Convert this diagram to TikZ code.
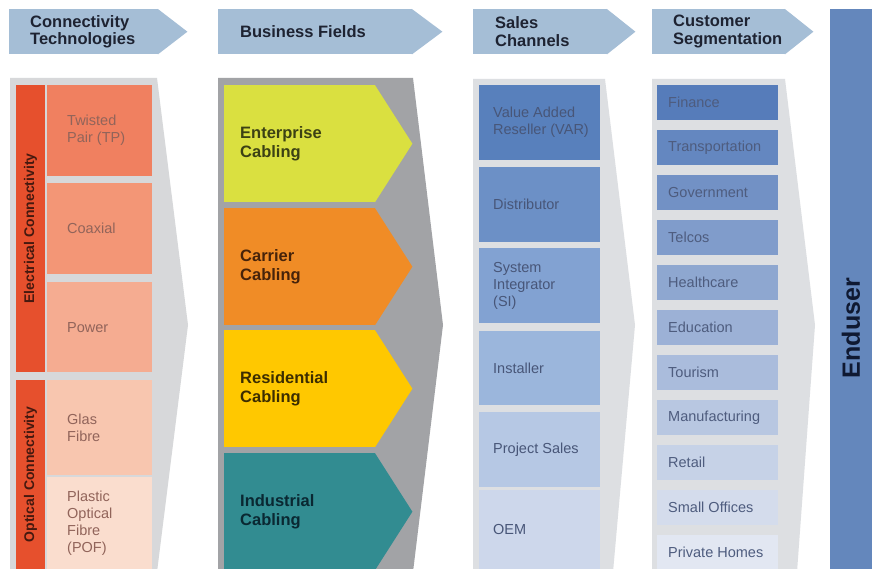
\documentclass[tikz,border=0pt]{standalone}
\usepackage{fontspec}
\setmainfont{Liberation Sans}
\definecolor{hdrblue}{RGB}{165,190,214}
\definecolor{hdrtext}{RGB}{30,35,50}
\definecolor{ltgray}{RGB}{215,216,218}
\definecolor{bfgray}{RGB}{162,163,166}
\definecolor{scgray}{RGB}{221,223,226}
\definecolor{stripred}{RGB}{230,80,45}
\definecolor{striptext}{RGB}{70,25,15}
\definecolor{cttext}{RGB}{145,100,90}
\definecolor{ctA}{RGB}{240,128,96}
\definecolor{ctB}{RGB}{243,150,118}
\definecolor{ctC}{RGB}{245,172,145}
\definecolor{ctD}{RGB}{248,198,175}
\definecolor{ctE}{RGB}{250,221,206}
\definecolor{bfA}{RGB}{218,224,64}
\definecolor{bfB}{RGB}{240,140,38}
\definecolor{bfC}{RGB}{255,200,0}
\definecolor{bfD}{RGB}{50,140,145}
\definecolor{bftA}{RGB}{60,65,20}
\definecolor{bftB}{RGB}{70,35,10}
\definecolor{bftC}{RGB}{60,45,0}
\definecolor{bftD}{RGB}{10,40,50}
\definecolor{scA}{RGB}{88,128,188}
\definecolor{scB}{RGB}{108,144,198}
\definecolor{scC}{RGB}{130,162,210}
\definecolor{scD}{RGB}{155,182,220}
\definecolor{scE}{RGB}{182,200,228}
\definecolor{scF}{RGB}{205,215,235}
\definecolor{sctext}{RGB}{72,86,120}
\definecolor{segA}{RGB}{86,124,186}
\definecolor{segB}{RGB}{226,231,242}
\definecolor{segtext}{RGB}{78,92,126}
\definecolor{endblue}{RGB}{100,135,188}
\definecolor{endtext}{RGB}{15,25,50}
\begin{document}
\begin{tikzpicture}[x=1pt,y=-1pt,
  hdr/.style={fill=hdrblue, anchor=north west, minimum height=45pt, inner ysep=0pt, align=flush left,
    font=\fontsize{16.5}{17.5}\selectfont\bfseries, text=hdrtext},
  strip/.style={fill=stripred, rotate=90, inner sep=0pt, minimum height=29pt,
    font=\fontsize{14}{14}\selectfont\bfseries, text=striptext},
  ctcell/.style={anchor=north west, inner xsep=20pt, inner ysep=0pt, text width=65pt, align=flush left,
    font=\fontsize{14.5}{17}\selectfont, text=cttext},
  bfcell/.style={anchor=north west, inner xsep=16pt, inner ysep=0pt, text width=119pt, minimum height=117pt,
    align=flush left, font=\fontsize{16.5}{19.5}\selectfont\bfseries},
  sccell/.style={anchor=north west, inner xsep=14pt, inner ysep=0pt, text width=93pt, align=flush left,
    font=\fontsize{14.5}{17}\selectfont, text=sctext},
  segcell/.style={anchor=north west, inner xsep=11pt, inner ysep=0pt, text width=99pt, minimum height=35pt,
    align=flush left, font=\fontsize{14.5}{17}\selectfont, text=segtext},
]
\useasboundingbox (0,0) rectangle (874,569);
\fill[white] (0,0) rectangle (874,569);

% ---------- headers ----------
\node[hdr, inner xsep=21pt, text width=107pt] (h1) at (9,9) {Connectivity\\Technologies};
\fill[hdrblue] ([xshift=-0.5pt]h1.north east) -- ([xshift=29pt]h1.east) -- ([xshift=-0.5pt]h1.south east) -- cycle;
\node[hdr, inner xsep=22pt, text width=150pt] (h2) at (218,9) {\mbox{Business Fields}};
\fill[hdrblue] ([xshift=-0.5pt]h2.north east) -- ([xshift=30pt]h2.east) -- ([xshift=-0.5pt]h2.south east) -- cycle;
\node[hdr, inner xsep=22pt, text width=90pt] (h3) at (473,9) {Sales\\Channels};
\fill[hdrblue] ([xshift=-0.5pt]h3.north east) -- ([xshift=28pt]h3.east) -- ([xshift=-0.5pt]h3.south east) -- cycle;
\node[hdr, inner xsep=21pt, text width=91pt] (h4) at (652,9) {Customer\\Segmentation};
\fill[hdrblue] ([xshift=-0.5pt]h4.north east) -- ([xshift=28pt]h4.east) -- ([xshift=-0.5pt]h4.south east) -- cycle;

% ---------- connectivity technologies ----------
\fill[ltgray] (10,78) -- (157,78) -- (188,325) -- (157,572) -- (10,572) -- cycle;
\node[strip, minimum width=287pt] (elec) at (30.5,228.5) {Electrical Connectivity};
\node[strip, minimum width=189pt] (opt) at (30.5,474.5) {Optical Connectivity};
\node[ctcell, fill=ctA, minimum height=91pt] (tp) at (47,85) {Twisted\\\mbox{Pair (TP)}};
\node[ctcell, fill=ctB, minimum height=91pt] (coax) at (47,183) {Coaxial};
\node[ctcell, fill=ctC, minimum height=90pt] (power) at (47,282) {Power};
\node[ctcell, fill=ctD, minimum height=95pt] (glas) at (47,380) {Glas\\Fibre};
\node[ctcell, fill=ctE, minimum height=92pt] (pof) at (47,477) {Plastic\\Optical\\Fibre\\(POF)};

% ---------- business fields ----------
\fill[bfgray] (218,78) -- (413,78) -- (443,325) -- (413,572) -- (218,572) -- cycle;
\node[bfcell, fill=bfA, text=bftA] (ent) at (224,85) {Enterprise\\Cabling};
\fill[bfA] ([xshift=-0.5pt]ent.north east) -- ([xshift=37pt]ent.east) -- ([xshift=-0.5pt]ent.south east) -- cycle;
\node[bfcell, fill=bfB, text=bftB] (car) at (224,208) {Carrier\\Cabling};
\fill[bfB] ([xshift=-0.5pt]car.north east) -- ([xshift=37pt]car.east) -- ([xshift=-0.5pt]car.south east) -- cycle;
\node[bfcell, fill=bfC, text=bftC] (res) at (224,330) {Residential\\Cabling};
\fill[bfC] ([xshift=-0.5pt]res.north east) -- ([xshift=37pt]res.east) -- ([xshift=-0.5pt]res.south east) -- cycle;
\node[bfcell, fill=bfD, text=bftD] (ind) at (224,453) {Industrial\\Cabling};
\fill[bfD] ([xshift=-0.5pt]ind.north east) -- ([xshift=37pt]ind.east) -- ([xshift=-0.5pt]ind.south east) -- cycle;

% ---------- sales channels ----------
\fill[scgray] (473,79) -- (605,79) -- (635,325) -- (613,572) -- (473,572) -- cycle;
\node[sccell, fill=scA, minimum height=75pt] (var) at (479,85) {\mbox{Value Added}\\\mbox{Reseller (VAR)}};
\node[sccell, fill=scB, minimum height=75pt] (dist) at (479,167) {Distributor};
\node[sccell, fill=scC, minimum height=75pt] (si) at (479,248) {System\\Integrator\\(SI)};
\node[sccell, fill=scD, minimum height=74pt] (inst) at (479,331) {Installer};
\node[sccell, fill=scE, minimum height=75pt] (proj) at (479,412) {\mbox{Project Sales}};
\node[sccell, fill=scF, minimum height=79pt] (oem) at (479,490) {OEM};

% ---------- customer segmentation ----------
\fill[scgray] (652,79) -- (785,79) -- (815,325) -- (797,572) -- (652,572) -- cycle;
\node[segcell, fill=segB!0!segA] (fin) at (657,85) {Finance};
\node[segcell, fill=segB!10!segA] (trans) at (657,130) {Transportation};
\node[segcell, fill=segB!20!segA] (gov) at (657,175) {Government};
\node[segcell, fill=segB!30!segA] (tel) at (657,220) {Telcos};
\node[segcell, fill=segB!40!segA] (health) at (657,265) {Healthcare};
\node[segcell, fill=segB!50!segA] (edu) at (657,310) {Education};
\node[segcell, fill=segB!60!segA] (tour) at (657,355) {Tourism};
\node[segcell, fill=segB!70!segA] (manu) at (657,400) {Manufacturing};
\node[segcell, fill=segB!80!segA] (ret) at (657,445) {Retail};
\node[segcell, fill=segB!90!segA] (small) at (657,490) {\mbox{Small Offices}};
\node[segcell, fill=segB!100!segA] (priv) at (657,535) {\mbox{Private Homes}};

% ---------- enduser ----------
\node[fill=endblue, anchor=north west, minimum width=42pt, minimum height=560pt, inner sep=0pt] (endbar) at (830,9) {};
\node[rotate=90, inner sep=0pt, font=\fontsize{25}{25}\selectfont\bfseries, text=endtext] (endtxt) at (851,328) {Enduser};
\end{tikzpicture}
\end{document}
